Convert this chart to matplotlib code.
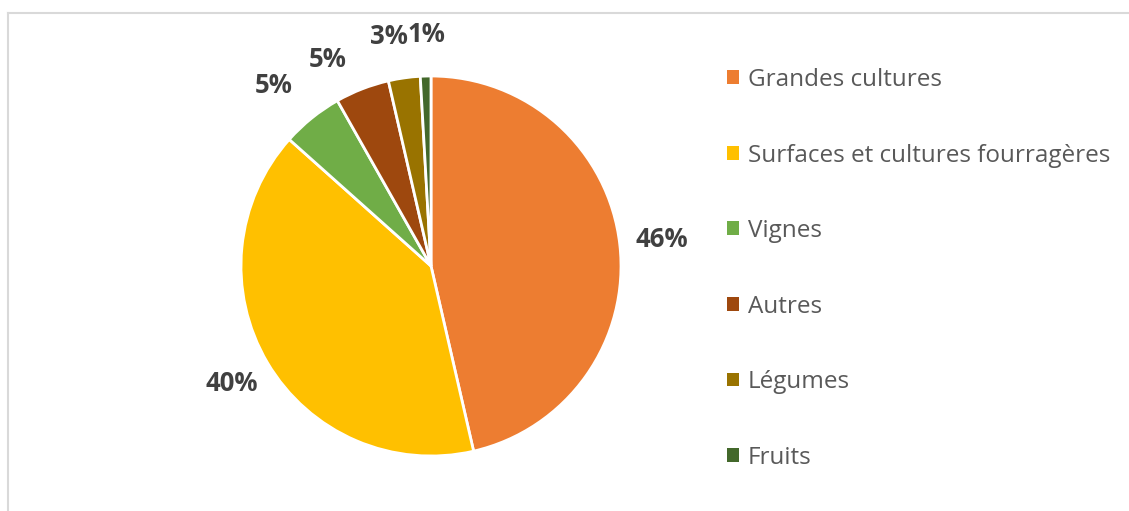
import matplotlib.pyplot as plt
from matplotlib.lines import Line2D

# Parts (en %)
categories = ['Grandes cultures', 'Surfaces et cultures fourragères', 'Vignes',
              'Autres', 'Légumes', 'Fruits']
parts = [46.4, 40.2, 5.2, 4.6, 2.7, 0.9]
colors = ['#ED7D31', '#FFC000', '#70AD47', '#9E480E', '#997300', '#43682B']

plt.rcParams['font.family'] = ['Open Sans', 'DejaVu Sans']

W, H = 1129, 511
fig = plt.figure(figsize=(W / 100, H / 100), dpi=100)

# pie centre ~ (431, 266) px, radius ~190 px
cx, cy, r = 431, 266, 190
ax = fig.add_axes([(cx - r) / W, (H - cy - r) / H, 2 * r / W, 2 * r / H])
wedges, texts, autotexts = ax.pie(
    parts, colors=colors, startangle=90, counterclock=False,
    autopct='%.0f%%', pctdistance=1.22,
    wedgeprops=dict(edgecolor='white', linewidth=2),
    textprops=dict(fontsize=18.5, fontweight='bold', color='#404040'))
ax.set_xlim(-1, 1)
ax.set_ylim(-1, 1)
ax.set_aspect('equal')

# small slices at the top: push labels apart like Excel does
nudges = {2: (-0.06, 0.0), 3: (-0.1, -0.05), 4: (-0.05, 0.0), 5: (0.01, 0.0)}
for i, (dx, dy) in nudges.items():
    x, y = autotexts[i].get_position()
    autotexts[i].set_position((x + dx, y + dy))

leg = fig.legend(wedges, categories, loc='upper left',
                 bbox_to_anchor=(727 / W, 1 - 68 / H), frameon=False,
                 borderpad=0, borderaxespad=0,
                 fontsize=17.5, labelcolor='#595959',
                 handlelength=0.5, handleheight=0.5, handletextpad=0.35,
                 labelspacing=2.12)
for h in leg.legend_handles:
    h.set_edgecolor('none')

# light chart border (top and left)
fig.add_artist(Line2D([8 / W, 1], [1 - 13 / H, 1 - 13 / H], color='#D9D9D9', lw=1.5))
fig.add_artist(Line2D([8 / W, 8 / W], [0, 1 - 13 / H], color='#D9D9D9', lw=1.5))

fig.savefig('out.png', dpi=100)
